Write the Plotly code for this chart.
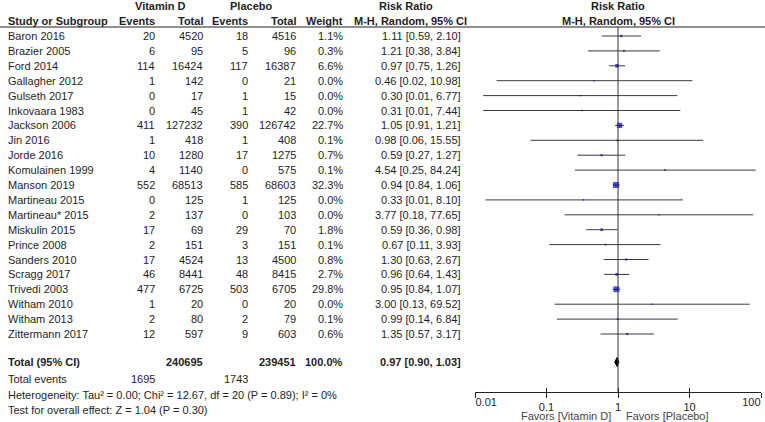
import plotly.graph_objects as go

studies = ["Baron 2016", "Brazier 2005", "Ford 2014", "Gallagher 2012", "Gulseth 2017",
           "Inkovaara 1983", "Jackson 2006", "Jin 2016", "Jorde 2016", "Komulainen 1999",
           "Manson 2019", "Martineau 2015", "Martineau* 2015", "Miskulin 2015", "Prince 2008",
           "Sanders 2010", "Scragg 2017", "Trivedi 2003", "Witham 2010", "Witham 2013",
           "Zittermann 2017"]
vitd_events = [20, 6, 114, 1, 0, 0, 411, 1, 10, 4, 552, 0, 2, 17, 2, 17, 46, 477, 1, 2, 12]
vitd_total = [4520, 95, 16424, 142, 17, 45, 127232, 418, 1280, 1140, 68513, 125, 137, 69,
              151, 4524, 8441, 6725, 20, 80, 597]
plac_events = [18, 5, 117, 0, 1, 1, 390, 1, 17, 0, 585, 1, 0, 29, 3, 13, 48, 503, 0, 2, 9]
plac_total = [4516, 96, 16387, 21, 15, 42, 126742, 408, 1275, 575, 68603, 125, 103, 70,
              151, 4500, 8415, 6705, 20, 79, 603]
weight = [1.1, 0.3, 6.6, 0.0, 0.0, 0.0, 22.7, 0.1, 0.7, 0.1, 32.3, 0.0, 0.0, 1.8, 0.1,
          0.8, 2.7, 29.8, 0.0, 0.1, 0.6]
rr = [1.11, 1.21, 0.97, 0.46, 0.30, 0.31, 1.05, 0.98, 0.59, 4.54, 0.94, 0.33, 3.77, 0.59,
      0.67, 1.30, 0.96, 0.95, 3.00, 0.99, 1.35]
ci_lo = [0.59, 0.38, 0.75, 0.02, 0.013, 0.013, 0.91, 0.06, 0.27, 0.25, 0.84, 0.014, 0.18,
         0.36, 0.11, 0.63, 0.64, 0.84, 0.13, 0.14, 0.57]
ci_hi = [2.10, 3.84, 1.26, 10.98, 6.77, 7.44, 1.21, 15.55, 1.27, 84.24, 1.06, 8.10, 77.65,
         0.98, 3.93, 2.67, 1.43, 1.07, 69.52, 6.84, 3.17]

total_vitd = 240695
total_plac = 239451
total_weight = 100.0
total_rr, total_lo, total_hi = 0.97, 0.90, 1.03
events_vitd = 1695
events_plac = 1743
heterogeneity = "Heterogeneity: Tau² = 0.00; Chi² = 12.67, df = 20 (P = 0.89); I² = 0%"
overall = "Test for overall effect: Z = 1.04 (P = 0.30)"
tick_vals = [0.01, 0.1, 1, 10, 100]
tick_text = ["0.01", "0.1", "1", "10", "100"]

W, H = 765, 422
ROW0, ROWH = 36.0, 14.9
def py(px):
    return (px - ROW0) / ROWH

FONT = "Liberation Sans, Arial, sans-serif"
TXT = "#1e1e1e"
FS = 11

n = len(studies)
rows = list(range(n))
y_total = py(362)
y_events = py(379)
y_het = py(395)
y_test = py(410)

fig = go.Figure()

# CI lines
for i in rows:
    fig.add_trace(go.Scatter(x=[ci_lo[i], ci_hi[i]], y=[i, i], mode="lines",
                             line=dict(color="#3a3a3a", width=1), hoverinfo="skip",
                             showlegend=False))
# squares
sizes = [1.5 + 0.8 * (w ** 0.5) for w in weight]
fig.add_trace(go.Scatter(x=rr, y=rows, mode="markers",
                         marker=dict(symbol="square", size=sizes, color="#0000d4",
                                     line=dict(width=0)),
                         showlegend=False, cliponaxis=False))
# diamond
dh = 0.3
fig.add_trace(go.Scatter(x=[total_lo, total_rr, total_hi, total_rr, total_lo],
                         y=[y_total, y_total - dh, y_total, y_total + dh, y_total],
                         mode="lines", fill="toself", fillcolor="black",
                         line=dict(color="black", width=1), showlegend=False))

# extra axes (for tick labels at the ends and crossing ticks)
for ax in ["x2", "x3", "x4"]:
    fig.add_trace(go.Scatter(x=[1], y=[0], mode="markers", marker=dict(opacity=0),
                             xaxis=ax, yaxis="y", showlegend=False, hoverinfo="skip"))

dom = [475 / W, 761 / W]
pos = 1 - 392 / H
common = dict(type="log", range=[-2, 2], domain=dom, anchor="free", position=pos,
              showgrid=False, zeroline=False,
              tickfont=dict(family=FONT, size=FS, color=TXT))
fig.update_layout(
    xaxis=dict(**common, tickvals=tick_vals[1:4], ticktext=tick_text[1:4],
               ticks="outside", ticklen=5, tickcolor="#222", showline=True,
               linecolor="#222", linewidth=1, ticklabelstandoff=0),
    xaxis2=dict(**common, overlaying="x", tickvals=tick_vals[:1], ticktext=tick_text[:1],
                ticks="outside", ticklen=5, tickcolor="#222", ticklabelposition="outside right",
                ticklabelstandoff=0, showline=False),
    xaxis3=dict(**common, overlaying="x", tickvals=tick_vals[4:], ticktext=tick_text[4:],
                ticks="outside", ticklen=5, tickcolor="#222", ticklabelposition="outside left",
                ticklabelstandoff=0, showline=False),
    xaxis4=dict(**common, overlaying="x", tickvals=tick_vals, showticklabels=False,
                ticks="inside", ticklen=4, tickcolor="#222", showline=False),
    yaxis=dict(range=[py(H), py(0)], domain=[0, 1], visible=False, fixedrange=True),
    width=W, height=H, autosize=False,
    margin=dict(l=0, r=0, t=0, b=0),
    paper_bgcolor="white", plot_bgcolor="white",
    showlegend=False,
)

# shapes: header line and null line
fig.add_shape(type="line", xref="paper", yref="y", x0=0, x1=1, y0=py(27), y1=py(27),
              line=dict(color="#222", width=1))
fig.add_shape(type="line", xref="x", yref="y", x0=1, x1=1, y0=py(27), y1=py(392),
              line=dict(color="#333", width=1))

ann = []
def txt(x_px, y, s, anchor="left", bold=False, color=TXT, size=FS):
    ann.append(dict(x=x_px / W, y=y, xref="paper", yref="y", text=f"<b>{s}</b>" if bold else s,
                    showarrow=False, xanchor=anchor, yanchor="middle",
                    font=dict(family=FONT, size=size, color=color)))

# headers
yh1, yh2 = py(6), py(20.5)
txt(160, yh1, "Vitamin D", "center", True)
txt(251, yh1, "Placebo", "center", True)
txt(406, yh1, "Risk Ratio", "center", True)
txt(618, yh1, "Risk Ratio", "center", True)
txt(6, yh2, "Study or Subgroup", "left", True)
txt(157, yh2, "Events", "right", True)
txt(205, yh2, "Total", "right", True)
txt(250, yh2, "Events", "right", True)
txt(298, yh2, "Total", "right", True)
txt(345, yh2, "Weight", "right", True)
txt(410, yh2, "M-H, Random, 95% CI", "center", True)
txt(618, yh2, "M-H, Random, 95% CI", "center", True)

for i in rows:
    txt(6, i, studies[i], "left")
    txt(157, i, str(vitd_events[i]), "right")
    txt(205, i, str(vitd_total[i]), "right")
    txt(250, i, str(plac_events[i]), "right")
    txt(298, i, str(plac_total[i]), "right")
    txt(345, i, f"{weight[i]:.1f}%", "right")
    txt(463, i, f"{rr[i]:.2f} [{ci_lo[i]:.2f}, {ci_hi[i]:.2f}]", "right")

txt(6, y_total, "Total (95% CI)", "left", True)
txt(205, y_total, str(total_vitd), "right", True)
txt(298, y_total, str(total_plac), "right", True)
txt(345, y_total, f"{total_weight:.1f}%", "right", True)
txt(463, y_total, f"{total_rr:.2f} [{total_lo:.2f}, {total_hi:.2f}]", "right", True)
txt(6, y_events, "Total events", "left")
txt(157, y_events, str(events_vitd), "right")
txt(250, y_events, str(events_plac), "right")
txt(6, y_het, heterogeneity, "left")
txt(6, y_test, overall, "left")

txt(613, py(415.5), "Favors [Vitamin D]", "right", color="#444")
txt(624, py(415.5), "Favors [Placebo]", "left", color="#444")

fig.update_layout(annotations=ann)
fig.write_html("out.html", config={"displayModeBar": False},
               post_script="document.body.style.margin='0';")
